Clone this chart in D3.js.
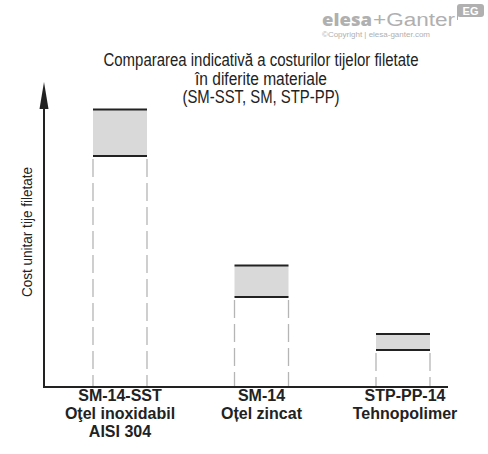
<!DOCTYPE html>
<html>
<head>
<meta charset="utf-8">
<script src="https://d3js.org/d3.v7.min.js"></script>
<style>
  body { margin: 0; background: #fff; }
</style>
</head>
<body>
<script>
// data (relative cost units, axis 0..100)
const codes = ["SM-14-SST", "SM-14", "STP-PP-14"];
const materials = ["Oţel inoxidabil", "Oțel zincat", "Tehnopolimer"];
const extras = ["AISI 304", "", ""];
const costMin = [75.7, 29.5, 12.1];
const costMax = [91, 39.8, 17.4];
const titleLines = ["Compararea indicativă a costurilor tijelor filetate", "în diferite materiale", "(SM-SST, SM, STP-PP)"];
const titleWidths = [315, 132, 157];
const yLabel = "Cost unitar tije filetate";

const W = 488, H = 454;

const svg = d3.select("body").append("svg")
    .attr("width", W)
    .attr("height", H)
    .style("font-family", "'Liberation Sans', Arial, sans-serif");

const x0 = 44, x1 = 448, yBase = 387, yTop = 82;

const x = d3.scalePoint().domain(codes).range([120, 403]);
const y = d3.scaleLinear().domain([0, 100]).range([yBase, yTop]);
const barW = 54;

// logo
const logo = svg.append("g").attr("fill", "#b0b0b0");
logo.append("text").attr("x", 322).attr("y", 26)
    .style("font-family", "'Open Sans', sans-serif").style("font-weight", "800")
    .style("font-size", "17px").attr("textLength", 50).attr("lengthAdjust", "spacingAndGlyphs")
    .text("elesa");
logo.append("text").attr("x", 373).attr("y", 26)
    .style("font-size", "18px").attr("textLength", 82).attr("lengthAdjust", "spacingAndGlyphs")
    .text("+Ganter");
logo.append("text").attr("x", 322).attr("y", 37)
    .style("font-size", "7px").attr("textLength", 108).attr("lengthAdjust", "spacingAndGlyphs")
    .text("©Copyright | elesa-ganter.com");
logo.append("rect").attr("x", 457).attr("y", 4).attr("width", 27).attr("height", 13).attr("rx", 3);
logo.append("line").attr("x1", 457.5).attr("x2", 457.5).attr("y1", 10).attr("y2", 20)
    .attr("stroke", "#b0b0b0");
logo.append("text").attr("x", 470.5).attr("y", 15).attr("text-anchor", "middle")
    .attr("fill", "#fff").style("font-size", "11px").style("font-weight", "bold")
    .text("EG");

// title (condensed face)
svg.append("g").selectAll("text").data(titleLines).join("text")
    .attr("x", 261)
    .attr("y", (d, i) => 66 + i * 18.5)
    .attr("text-anchor", "middle")
    .attr("textLength", (d, i) => titleWidths[i])
    .attr("lengthAdjust", "spacingAndGlyphs")
    .style("font-size", "17.5px")
    .attr("fill", "#222")
    .text(d => d);

// y axis label
svg.append("text")
    .attr("transform", "translate(32, 232) rotate(-90)")
    .attr("text-anchor", "middle")
    .attr("textLength", 130)
    .attr("lengthAdjust", "spacingAndGlyphs")
    .style("font-size", "14.5px")
    .attr("fill", "#222")
    .text(yLabel);

// range boxes with dashed guides down to the axis
const bars = svg.append("g").selectAll("g").data(codes).join("g");
bars.each(function(d, i) {
  const g = d3.select(this);
  const cx = x(d);
  g.append("rect")
      .attr("x", cx - barW / 2)
      .attr("y", y(costMax[i]))
      .attr("width", barW)
      .attr("height", y(costMin[i]) - y(costMax[i]))
      .attr("fill", "#d9d9d9");
  [cx - barW / 2, cx + barW / 2].forEach(px => {
    g.append("line")
        .attr("x1", px).attr("x2", px)
        .attr("y1", y(costMin[i]) + 3).attr("y2", yBase)
        .attr("stroke", "#b5b5b5")
        .attr("stroke-width", 1.3)
        .attr("stroke-dasharray", "18,6");
  });
  [costMax[i], costMin[i]].forEach(v => {
    g.append("line")
        .attr("x1", cx - barW / 2).attr("x2", cx + barW / 2)
        .attr("y1", y(v)).attr("y2", y(v))
        .attr("stroke", "#222")
        .attr("stroke-width", 2);
  });
});

// axes
svg.append("line").attr("x1", x0).attr("x2", x0).attr("y1", yBase + 1).attr("y2", yTop + 20)
    .attr("stroke", "#222").attr("stroke-width", 2);
svg.append("line").attr("x1", x0 - 1).attr("x2", x1).attr("y1", yBase).attr("y2", yBase)
    .attr("stroke", "#222").attr("stroke-width", 2);
svg.append("path")
    .attr("d", `M${x0},${yTop} L${x0 - 4.5},${yTop + 27} L${x0 + 4.5},${yTop + 27} Z`)
    .attr("fill", "#222");

// category labels
const labels = svg.append("g").selectAll("text").data(codes).join("text")
    .attr("text-anchor", "middle")
    .style("font-weight", "bold")
    .style("font-size", "16px")
    .attr("fill", "#222");
labels.each(function(d, i) {
  const t = d3.select(this);
  [d, materials[i], extras[i]].filter(s => s).forEach((s, k) => {
    t.append("tspan")
        .attr("x", x(d) + (i === 2 ? 2 : 0))
        .attr("y", 401 + k * 18)
        .text(s);
  });
});
</script>
</body>
</html>
